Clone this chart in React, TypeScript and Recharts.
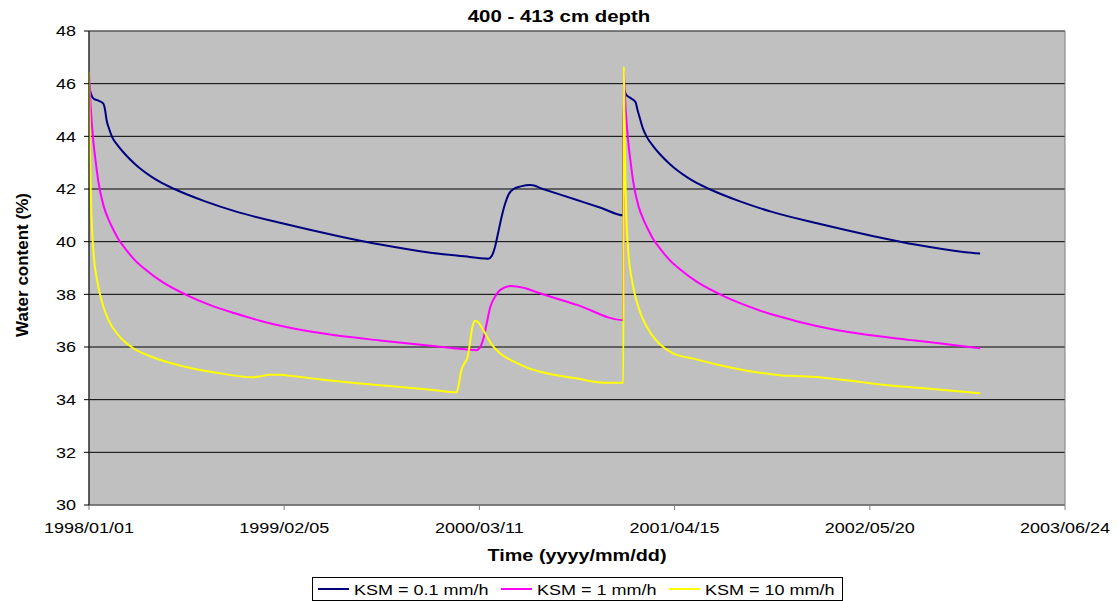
import React from "react";
import { LineChart, Line, XAxis, YAxis, CartesianGrid, ReferenceArea, Label } from "recharts";

const FONT = '"Liberation Sans", Arial, Helvetica, sans-serif';

const chartTitle = "400 - 413 cm depth";
const xTitle = "Time (yyyy/mm/dd)";
const yTitle = "Water content (%)";

const xTicks = [0, 400, 800, 1200, 1600, 2000];
const xTickLabels = ["1998/01/01", "1999/02/05", "2000/03/11", "2001/04/15", "2002/05/20", "2003/06/24"];
const yTicks = [30, 32, 34, 36, 38, 40, 42, 44, 46, 48];

const seriesNames = ["KSM = 0.1 mm/h", "KSM = 1 mm/h", "KSM = 10 mm/h"];
const seriesColors = ["#000080", "#FF00FF", "#FFFF00"];

// days since 1998/01/01
const blueDays = [0, 2, 9, 20, 29, 33, 36, 41, 47, 60, 75, 94, 110, 130, 150, 176, 200, 238, 300, 400, 514, 600, 700, 780, 810, 818, 825, 832, 838, 845, 852, 860, 870, 885, 905, 930, 1000, 1050, 1095,
  1096, 1100, 1110, 1120, 1124, 1128, 1135, 1143, 1156, 1171, 1190, 1206, 1226, 1246, 1272, 1296, 1334, 1396, 1496, 1610, 1696, 1796, 1826];
const blueValues = [46.0, 45.76, 45.44, 45.35, 45.25, 45.0, 44.62, 44.3, 43.99, 43.63, 43.3, 42.95, 42.7, 42.44, 42.22, 41.99, 41.8, 41.53, 41.15, 40.68, 40.2, 39.88, 39.58, 39.42, 39.36, 39.35, 39.45, 39.8, 40.3, 40.9, 41.4, 41.8, 42.0, 42.1, 42.15, 42.0, 41.58, 41.28, 41.0,
  45.8, 45.6, 45.45, 45.3, 45.0, 44.74, 44.3, 43.98, 43.63, 43.3, 42.95, 42.7, 42.44, 42.22, 41.99, 41.8, 41.53, 41.15, 40.68, 40.2, 39.88, 39.6, 39.55];

const pinkDays = [0, 2, 5, 9, 14, 19, 30, 40, 50, 60, 75, 94, 115, 150, 197, 250, 299, 350, 402, 484, 596, 700, 780, 794, 800, 808, 815, 822, 832, 845, 866, 890, 924, 1000, 1095,
  1096, 1098, 1101, 1105, 1110, 1115, 1126, 1136, 1146, 1156, 1171, 1190, 1211, 1246, 1293, 1346, 1395, 1446, 1498, 1580, 1692, 1796, 1826];
const pinkValues = [46.45, 45.6, 44.7, 43.8, 43.0, 42.3, 41.35, 40.85, 40.45, 40.1, 39.72, 39.3, 38.95, 38.47, 38.0, 37.58, 37.28, 37.0, 36.77, 36.5, 36.25, 36.05, 35.9, 35.88, 35.95, 36.3, 36.9, 37.5, 37.91, 38.2, 38.32, 38.25, 38.04, 37.6, 37.02,
  46.45, 45.6, 44.7, 43.8, 43.0, 42.3, 41.35, 40.85, 40.45, 40.1, 39.72, 39.3, 38.95, 38.47, 38.0, 37.58, 37.26, 37.0, 36.77, 36.5, 36.25, 36.02, 35.95];

const yellowDays = [0, 1, 3, 5, 7, 10, 15, 22, 30, 40, 60, 87, 128, 197, 279, 333, 350, 370, 388, 429, 484, 535, 637, 700, 753, 757, 763, 770, 776, 780, 785, 791, 797, 808, 825, 842, 870, 900, 938, 1000, 1061, 1095,
  1096, 1097, 1099, 1101, 1103, 1106, 1111, 1118, 1126, 1136, 1143, 1160, 1177, 1197, 1240, 1293, 1375, 1420, 1443, 1484, 1530, 1566, 1621, 1700, 1826];
const yellowValues = [46.45, 44.8, 42.4, 41.0, 40.2, 39.4, 38.7, 38.04, 37.5, 37.02, 36.45, 36.0, 35.63, 35.25, 34.97, 34.85, 34.88, 34.95, 34.95, 34.87, 34.75, 34.65, 34.48, 34.38, 34.28, 34.5, 35.12, 35.4, 35.63, 36.07, 36.7, 37.0, 36.95, 36.64, 36.1, 35.76, 35.45, 35.2, 35.0, 34.8, 34.64, 34.64,
  46.65, 44.9, 42.5, 41.0, 40.2, 39.4, 38.7, 38.04, 37.5, 37.02, 36.77, 36.3, 35.99, 35.76, 35.55, 35.31, 35.02, 34.92, 34.9, 34.87, 34.78, 34.71, 34.58, 34.45, 34.24];

const toData = (days: number[], vals: number[]) => days.map((d, i) => ({ day: d, v: vals[i] }));
const seriesData = [toData(blueDays, blueValues), toData(pinkDays, pinkValues), toData(yellowDays, yellowValues)];

const XTick = (props: any) => {
  const { x, y, payload } = props;
  const idx = xTicks.indexOf(payload.value);
  return (
    <g transform={`translate(${x},${y}) scale(1.2,1)`}>
      <text x={0} y={21} textAnchor="middle" fontSize={15} fill="#000" fontFamily={FONT}>
        {xTickLabels[idx]}
      </text>
    </g>
  );
};

const YTick = (props: any) => {
  const { x, y, payload } = props;
  return (
    <g transform={`translate(${x - 6},${y}) scale(1.2,1)`}>
      <text x={0} y={0} dy="0.36em" textAnchor="end" fontSize={15} fill="#000" fontFamily={FONT}>
        {payload.value}
      </text>
    </g>
  );
};

const XLabelContent = () => (
  <g transform="translate(577,555) scale(1.2,1)">
    <text x={0} y={0} dy="0.36em" textAnchor="middle" fontSize={16.5} fontWeight="bold" fill="#000" fontFamily={FONT}>
      {xTitle}
    </text>
  </g>
);

const YLabelContent = () => (
  <text
    transform="translate(22,265) rotate(-90)"
    x={0}
    y={0}
    dy="0.36em"
    textAnchor="middle"
    fontSize={17}
    fontWeight="bold"
    fill="#000"
    fontFamily={FONT}
  >
    {yTitle}
  </text>
);

const legendLefts = [5, 188, 356];

export default function App() {
  return (
    <div style={{ position: "absolute", left: 0, top: 0, width: 1119, height: 601, background: "#fff", fontFamily: FONT }}>
      <div
        style={{
          position: "absolute",
          left: 559,
          top: 8,
          fontSize: 17,
          lineHeight: "17px",
          fontWeight: "bold",
          whiteSpace: "nowrap",
          transform: "translateX(-50%) scaleX(1.2)",
          color: "#000",
        }}
      >
        {chartTitle}
      </div>
      <LineChart width={1119} height={601} margin={{ top: 31, right: 54, left: 0, bottom: 26 }}>
        <CartesianGrid vertical={false} horizontal={true} stroke="#000" strokeWidth={1} fill="#c0c0c0" fillOpacity={1} />
        <ReferenceArea x1={0} x2={2000} y1={30} y2={48} fill="none" stroke="#808080" strokeWidth={1} ifOverflow="extendDomain" />
        <XAxis
          dataKey="day"
          type="number"
          domain={[0, 2000]}
          ticks={xTicks}
          height={70}
          stroke="#808080"
          tickLine={{ stroke: "#808080" }}
          tickSize={5}
          tickMargin={2}
          tick={<XTick />}
          interval={0}
          allowDataOverflow
        >
          <Label content={XLabelContent} />
        </XAxis>
        <YAxis
          type="number"
          domain={[30, 48]}
          ticks={yTicks}
          width={89}
          stroke="#000"
          tickLine={{ stroke: "#000" }}
          tickSize={5}
          tickMargin={2}
          tick={<YTick />}
          interval={0}
          allowDataOverflow
        >
          <Label content={YLabelContent} />
        </YAxis>
        {seriesData.map((d, i) => (
          <Line
            key={seriesNames[i]}
            data={d}
            dataKey="v"
            name={seriesNames[i]}
            type="monotone"
            stroke={seriesColors[i]}
            strokeWidth={2}
            dot={false}
            activeDot={false}
            isAnimationActive={false}
          />
        ))}
      </LineChart>
      <div
        style={{
          position: "absolute",
          left: 312,
          top: 577,
          width: 531,
          height: 24,
          border: "1px solid #000",
          boxSizing: "border-box",
          background: "#fff",
        }}
      >
        {seriesNames.map((n, i) => (
          <div key={n} style={{ position: "absolute", left: legendLefts[i], top: 0, height: 22, display: "flex", alignItems: "center" }}>
            <div style={{ width: 31, height: 2, background: seriesColors[i] }} />
            <div
              style={{
                marginLeft: 5,
                fontSize: 15,
                lineHeight: "15px",
                whiteSpace: "nowrap",
                transform: "scaleX(1.2)",
                transformOrigin: "left center",
                color: "#000",
              }}
            >
              {n}
            </div>
          </div>
        ))}
      </div>
    </div>
  );
}
